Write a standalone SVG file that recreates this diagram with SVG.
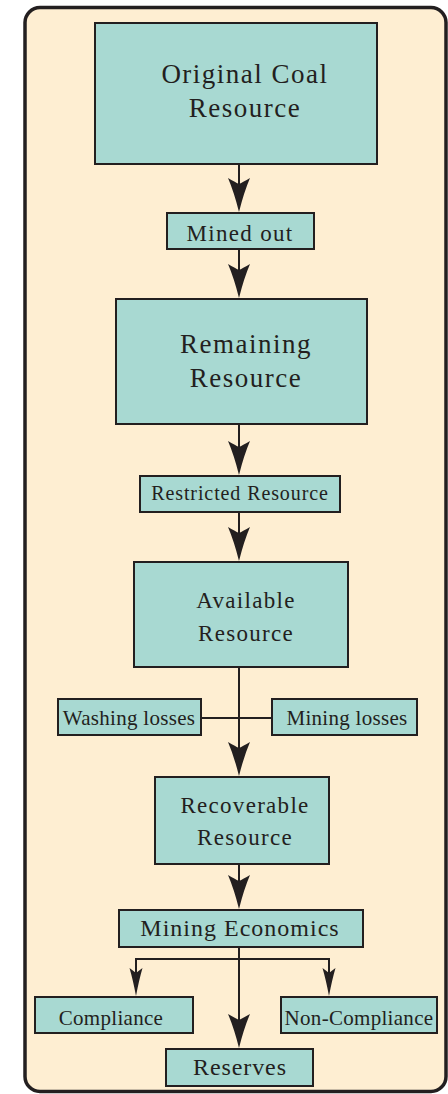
<svg xmlns="http://www.w3.org/2000/svg" width="448" height="1094" viewBox="0 0 448 1094">
<style>
.box{fill:#A8D9D2;stroke:#231F20;stroke-width:2}
.t{font-family:"Liberation Serif","Times New Roman",serif;fill:#231F20;text-anchor:middle}
.big{font-size:27px;letter-spacing:1.5px}
.mid{font-size:23px;letter-spacing:1.3px}
.sm{font-size:21px;letter-spacing:0.3px}
.ln{stroke:#231F20;stroke-width:2;fill:none}
.hd{fill:#231F20}
</style>
<defs>
<path id="ah" d="M0,0 Q-5,-20 -11,-34 Q-4,-30 0,-28 Q4,-30 11,-34 Q5,-20 0,0Z"/>
<path id="as" d="M0,0 Q-3,-16 -6.5,-28 Q-2.5,-25 0,-23 Q2.5,-25 6.5,-28 Q3,-16 0,0Z"/>
</defs>
<rect x="25" y="7.5" width="421" height="1084" rx="15" fill="#FEEED2" stroke="#231F20" stroke-width="3.5"/>
<g id="connectors">
<line class="ln" x1="239" y1="164" x2="239" y2="195"/><use href="#ah" class="hd" x="239" y="212"/>
<line class="ln" x1="239" y1="249" x2="239" y2="280"/><use href="#ah" class="hd" x="239" y="298"/>
<line class="ln" x1="239" y1="424" x2="239" y2="455"/><use href="#ah" class="hd" x="239" y="475"/>
<line class="ln" x1="239" y1="512" x2="239" y2="545"/><use href="#ah" class="hd" x="239" y="561"/>
<line class="ln" x1="239" y1="667" x2="239" y2="760"/><use href="#ah" class="hd" x="239" y="776"/>
<line class="ln" x1="201" y1="718" x2="272" y2="718"/>
<line class="ln" x1="239" y1="864" x2="239" y2="892"/><use href="#ah" class="hd" x="239" y="909"/>
<line class="ln" x1="239" y1="947" x2="239" y2="1030"/><use href="#ah" class="hd" x="239" y="1048"/>
<polyline class="ln" points="136,985 136,959 329,959 329,985"/>
<use href="#as" class="hd" x="136" y="996"/><use href="#as" class="hd" x="329" y="996"/>
</g>
<g id="original"><rect class="box" x="95" y="23" width="282" height="141"/><text class="t big" x="245" y="83">Original Coal</text><text class="t big" x="245" y="117">Resource</text></g>
<g id="mined"><rect class="box" x="167" y="213" width="147" height="36"/><text class="t mid" x="240" y="241">Mined out</text></g>
<g id="remaining"><rect class="box" x="116" y="299" width="251" height="125"/><text class="t big" x="246" y="353">Remaining</text><text class="t big" x="246" y="387">Resource</text></g>
<g id="restricted"><rect class="box" x="140" y="476" width="200" height="36"/><text class="t" x="240" y="500" style="font-size:20px;letter-spacing:0.9px">Restricted Resource</text></g>
<g id="available"><rect class="box" x="134" y="562" width="214" height="105"/><text class="t mid" x="246" y="608">Available</text><text class="t mid" x="246" y="641">Resource</text></g>
<g id="washing"><rect class="box" x="58" y="699" width="143" height="36"/><text class="t sm" x="129" y="725">Washing losses</text></g>
<g id="mininglosses"><rect class="box" x="272" y="699" width="145" height="36"/><text class="t sm" x="347" y="725">Mining losses</text></g>
<g id="recoverable"><rect class="box" x="155" y="777" width="174" height="87"/><text class="t mid" x="245" y="813">Recoverable</text><text class="t mid" x="245" y="845">Resource</text></g>
<g id="economics"><rect class="box" x="119" y="910" width="244" height="37"/><text class="t" x="240" y="936" style="font-size:24px;letter-spacing:1px">Mining Economics</text></g>
<g id="compliance"><rect class="box" x="35" y="997" width="158" height="36"/><text class="t sm" x="111" y="1025">Compliance</text></g>
<g id="noncompliance"><rect class="box" x="281" y="997" width="156" height="36"/><text class="t sm" x="359" y="1025">Non-Compliance</text></g>
<g id="reserves"><rect class="box" x="166" y="1049" width="147" height="37"/><text class="t" x="240" y="1075" style="font-size:24px;letter-spacing:0.9px">Reserves</text></g>
</svg>
